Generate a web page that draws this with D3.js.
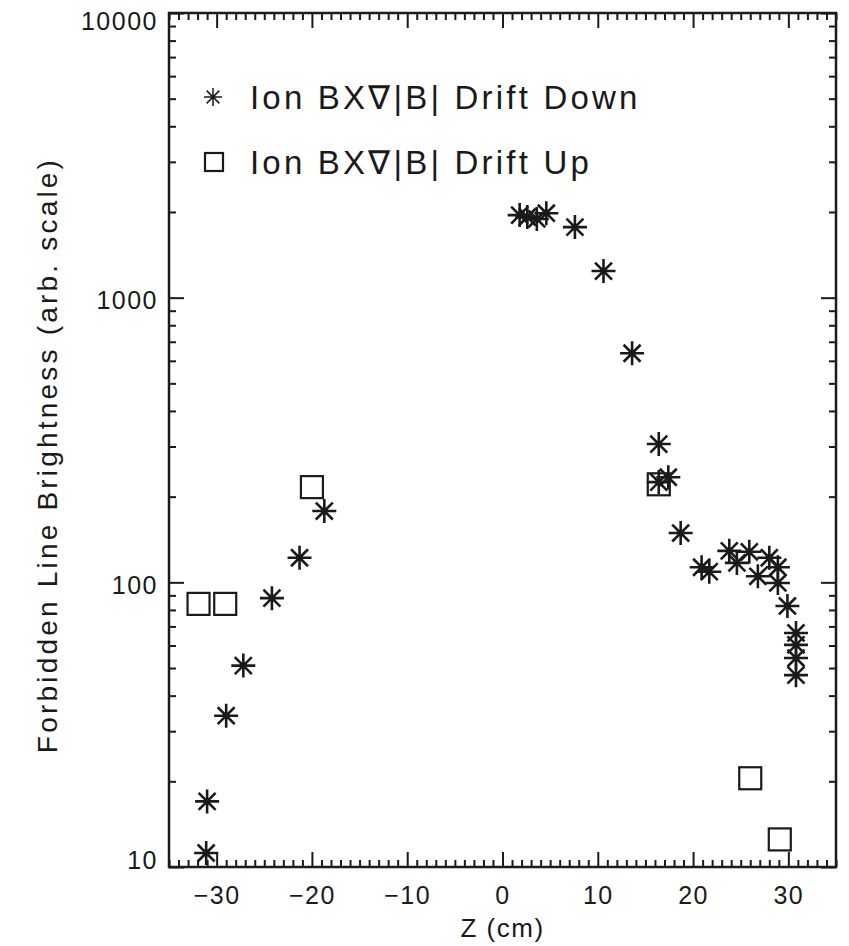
<!DOCTYPE html>
<html>
<head>
<meta charset="utf-8">
<script src="https://cdn.jsdelivr.net/npm/d3@7"></script>
<style>
    body { margin: 0; background: #fff; }
    text { font-family: "Liberation Sans", Arial, sans-serif; fill: #1a1a1a; }
</style>
</head>
<body>
<div id="chart"></div>
<script>
// Drift down (asterisks): z in cm, brightness arb. units
const downZ = [-31.1, -31.0, -29.0, -27.2, -24.2, -21.3, -18.7,
    1.8, 2.6, 3.6, 4.6, 7.6, 10.6, 13.6,
    16.4, 16.4, 17.4, 18.7, 20.9, 21.7, 23.8, 24.6, 25.9, 26.8, 28.0, 28.9, 28.9, 29.9,
    30.8, 30.8, 30.8, 30.8];
const downB = [11.2, 17, 34, 51, 88, 122, 178,
    1950, 1920, 1890, 1980, 1770, 1240, 638,
    306, 225, 234, 149, 113, 109, 129, 117, 128, 105, 122, 113, 99.5, 82.6,
    66.4, 60.3, 54.2, 47.2];

// Drift up (squares)
const upZ = [-31.9, -29.1, -20.0, 16.4, 26.0, 29.1];
const upB = [84, 84, 216, 221, 20.5, 12.5];

const xTicks = [-30, -20, -10, 0, 10, 20, 30];
const yTicks = [10, 100, 1000, 10000];
const legendLabels = ['Ion BX\u2207|B| Drift Down', 'Ion BX\u2207|B| Drift Up'];

const width = 849, height = 946;
const margin = { top: 13, right: 13, bottom: 79, left: 169 };

const svg = d3.select('#chart')
    .append('svg')
    .attr('width', width)
    .attr('height', height);

const x = d3.scaleLinear()
    .domain([-35, 35])
    .range([margin.left, width - margin.right]);

const y = d3.scaleLog()
    .domain([10, 10000])
    .range([height - margin.bottom, margin.top]);

const ink = '#1a1a1a';
const minorX = d3.range(-35, 36, 1).filter(v => v % 10 !== 0);
const minorY = [];
[10, 100, 1000].forEach(d => { for (let k = 2; k < 10; k++) minorY.push(d * k); });

function styleAxis(g) {
    g.select('.domain').remove();
    g.selectAll('.tick line').attr('stroke', ink).attr('stroke-width', 2);
}

// Bottom axis (ticks inward) with labels
svg.append('g')
    .attr('transform', `translate(0, ${y.range()[0]})`)
    .call(d3.axisBottom(x).tickValues(xTicks).tickSize(-15).tickPadding(19)
        .tickFormat(d => d < 0 ? '\u2212' + Math.abs(d) : d))
    .call(styleAxis)
    .call(g => g.selectAll('text').style('font-size', '25px').style('letter-spacing', '1.5px'));
svg.append('g')
    .attr('transform', `translate(0, ${y.range()[0]})`)
    .call(d3.axisBottom(x).tickValues(minorX).tickSize(-7).tickFormat(''))
    .call(styleAxis);

// Top axis
svg.append('g')
    .attr('transform', `translate(0, ${y.range()[1]})`)
    .call(d3.axisTop(x).tickValues(xTicks).tickSize(-15).tickFormat(''))
    .call(styleAxis);
svg.append('g')
    .attr('transform', `translate(0, ${y.range()[1]})`)
    .call(d3.axisTop(x).tickValues(minorX).tickSize(-7).tickFormat(''))
    .call(styleAxis);

// Left axis with labels (end labels kept inside the frame height)
svg.append('g')
    .attr('transform', `translate(${x.range()[0]}, 0)`)
    .call(d3.axisLeft(y).tickValues(yTicks).tickSize(-15).tickPadding(11).tickFormat(d3.format('d')))
    .call(styleAxis)
    .call(g => g.selectAll('text')
        .style('font-size', '25px')
        .style('letter-spacing', '1.5px')
        .attr('dy', d => d === 10 ? '0.05em' : d === 10000 ? '0.65em' : '0.45em'));
svg.append('g')
    .attr('transform', `translate(${x.range()[0]}, 0)`)
    .call(d3.axisLeft(y).tickValues(minorY).tickSize(-7).tickFormat(''))
    .call(styleAxis);

// Right axis
svg.append('g')
    .attr('transform', `translate(${x.range()[1]}, 0)`)
    .call(d3.axisRight(y).tickValues(yTicks).tickSize(-15).tickFormat(''))
    .call(styleAxis);
svg.append('g')
    .attr('transform', `translate(${x.range()[1]}, 0)`)
    .call(d3.axisRight(y).tickValues(minorY).tickSize(-7).tickFormat(''))
    .call(styleAxis);

// Frame
svg.append('rect')
    .attr('x', x.range()[0])
    .attr('y', y.range()[1])
    .attr('width', x.range()[1] - x.range()[0])
    .attr('height', y.range()[0] - y.range()[1])
    .attr('fill', 'none')
    .attr('stroke', ink)
    .attr('stroke-width', 2.5);

// Axis titles
svg.append('text')
    .attr('x', x(0))
    .attr('y', 937)
    .attr('text-anchor', 'middle')
    .style('font-size', '26px')
    .style('letter-spacing', '1.5px')
    .text('Z (cm)');

svg.append('text')
    .attr('transform', 'translate(57, 455) rotate(-90)')
    .attr('text-anchor', 'middle')
    .style('font-size', '28px')
    .style('letter-spacing', '3.2px')
    .text('Forbidden Line Brightness (arb. scale)');

// Marker shapes
function asterisk(sel, r) {
    const a = r * Math.SQRT1_2;
    sel.append('path')
        .attr('d', `M${-r},0H${r}M0,${-r}V${r}M${-a},${-a}L${a},${a}M${-a},${a}L${a},${-a}`)
        .attr('stroke', ink)
        .attr('stroke-width', 2.6)
        .attr('fill', 'none');
    sel.append('circle').attr('r', 3).attr('fill', ink);
}

function square(sel, s) {
    sel.append('rect')
        .attr('x', -s / 2).attr('y', -s / 2)
        .attr('width', s).attr('height', s)
        .attr('fill', 'none')
        .attr('stroke', ink)
        .attr('stroke-width', 2.2);
}

const downData = downZ.map((z, i) => ({ z, b: downB[i] }));
const upData = upZ.map((z, i) => ({ z, b: upB[i] }));

svg.selectAll('.down')
    .data(downData)
    .enter()
    .append('g')
    .attr('class', 'down')
    .attr('transform', d => `translate(${x(d.z)}, ${y(d.b)})`)
    .each(function () { asterisk(d3.select(this), 12); });

svg.selectAll('.up')
    .data(upData)
    .enter()
    .append('g')
    .attr('class', 'up')
    .attr('transform', d => `translate(${x(d.z)}, ${y(d.b)})`)
    .each(function () { square(d3.select(this), 22); });

// Legend
const legend = svg.append('g');
const legendY = [97, 162];

legend.append('g')
    .attr('transform', `translate(213, ${legendY[0]})`)
    .call(g => {
        const r = 9, a = r * Math.SQRT1_2;
        g.append('path')
            .attr('d', `M${-r},0H${r}M0,${-r}V${r}M${-a},${-a}L${a},${a}M${-a},${a}L${a},${-a}`)
            .attr('stroke', ink).attr('stroke-width', 1.5);
    });
legend.append('g')
    .attr('transform', `translate(214, ${legendY[1]})`)
    .call(g => square(g, 18));

legend.selectAll('text')
    .data(legendLabels)
    .enter()
    .append('text')
    .attr('x', 250)
    .attr('y', (d, i) => legendY[i])
    .attr('dy', '0.36em')
    .style('font-size', '33px')
    .style('letter-spacing', '3.2px')
    .text(d => d);
</script>
</body>
</html>
